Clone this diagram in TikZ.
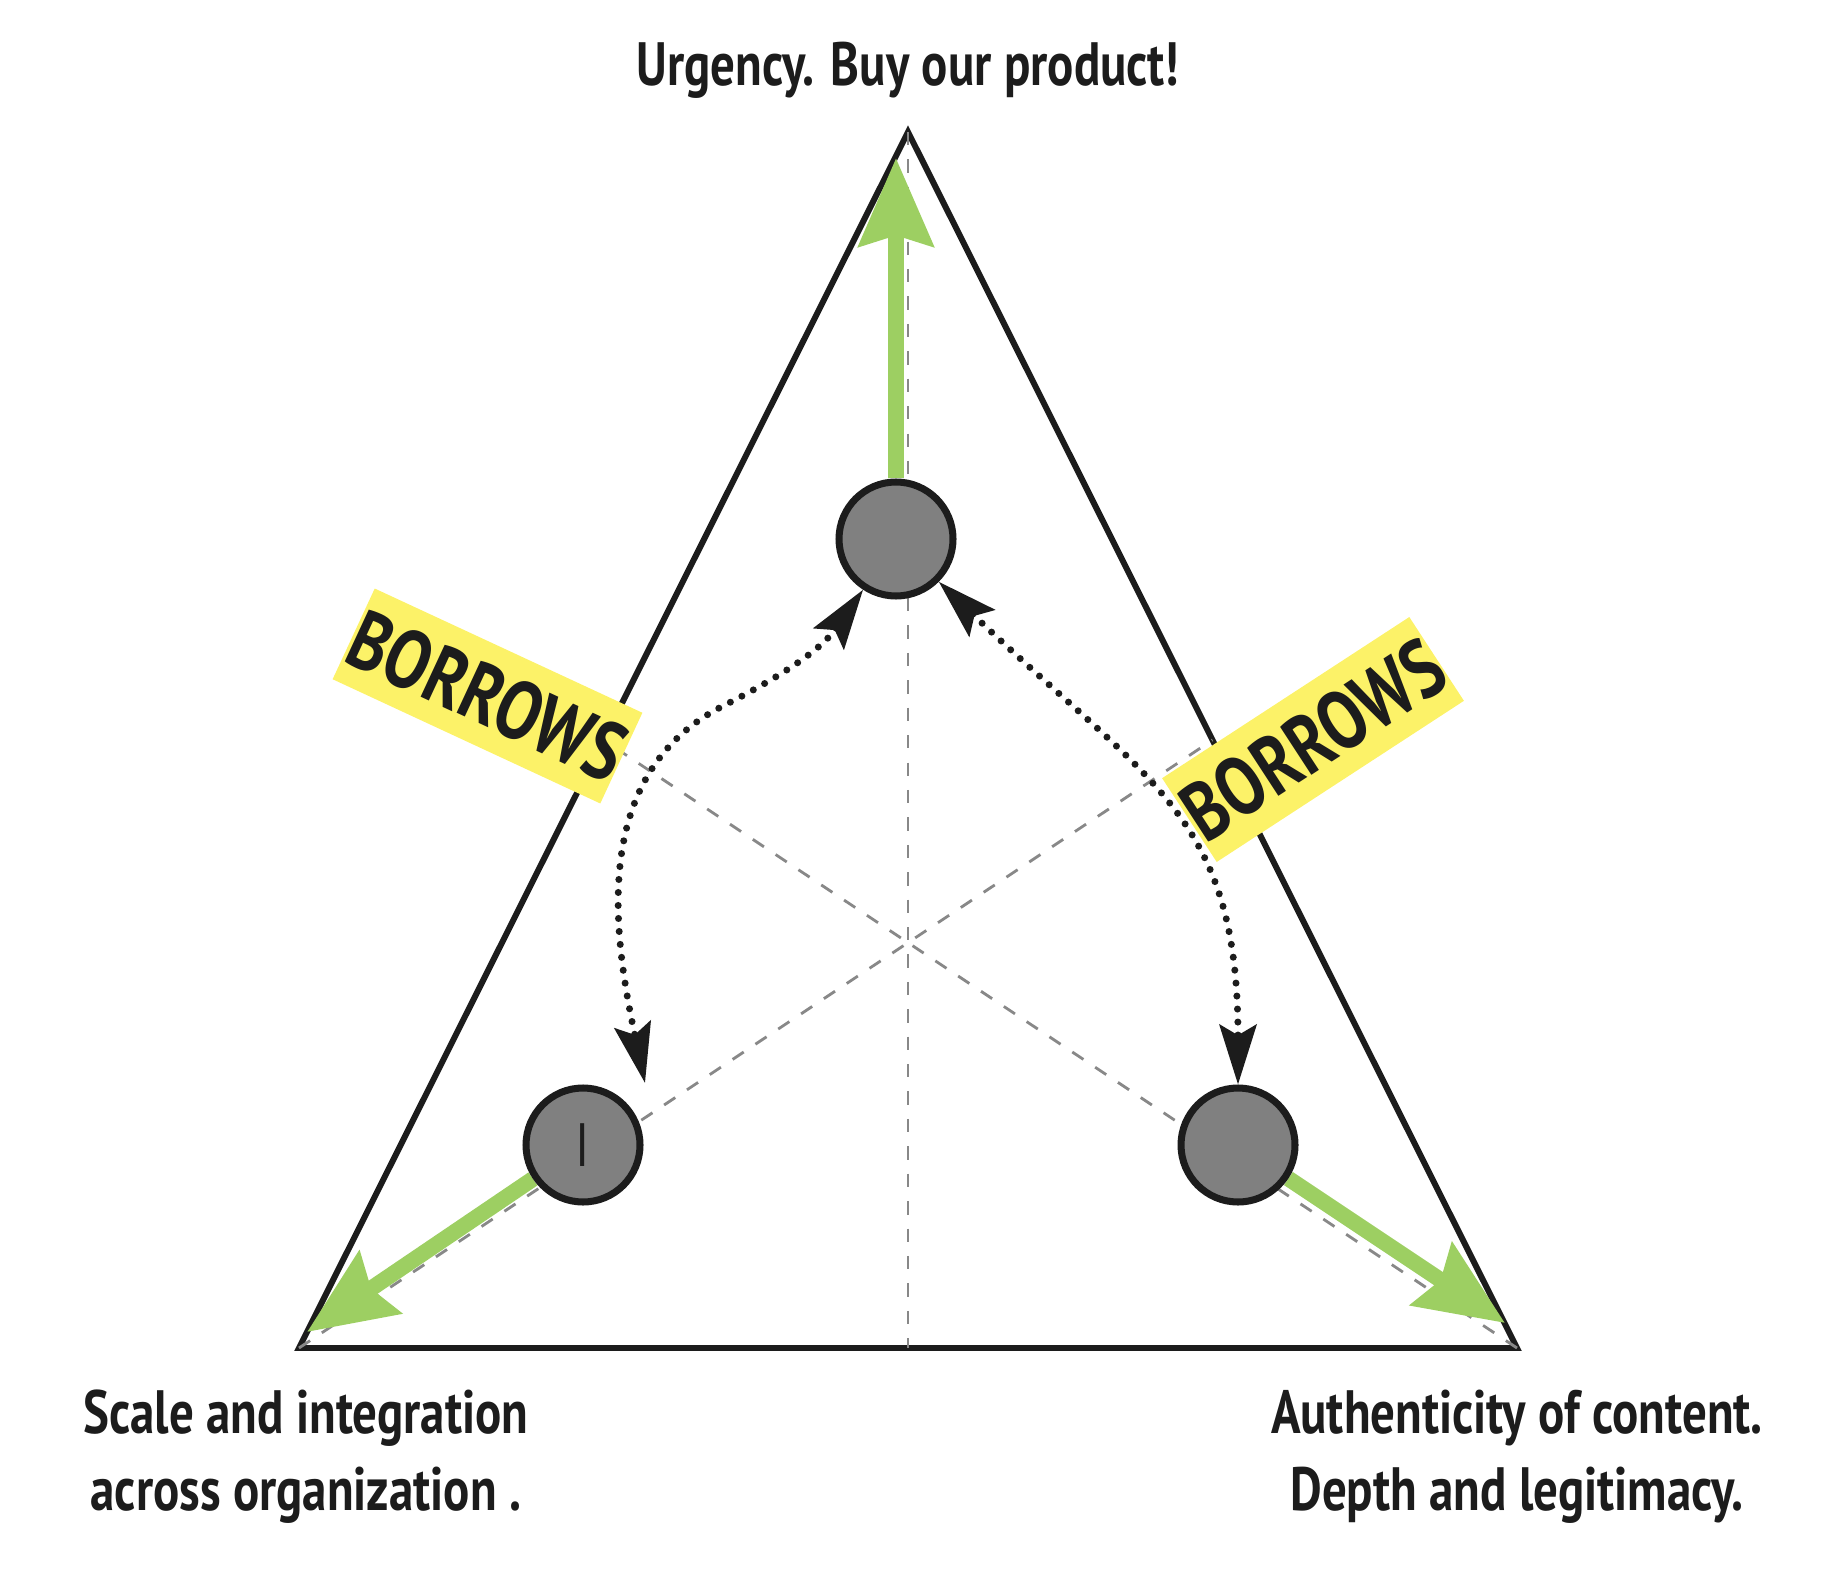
\documentclass[tikz,border=0pt]{standalone}
\usepackage{fontspec}
\setmainfont{PT Sans}[FakeStretch=0.8]
\definecolor{inkblack}{RGB}{28, 28, 28}
\definecolor{dotgray}{RGB}{128, 128, 128}
\definecolor{medgray}{RGB}{136, 136, 136}
\definecolor{pushgreen}{RGB}{157, 207, 98}
\definecolor{tagyellow}{RGB}{252, 242, 104}
\usetikzlibrary{arrows.meta, backgrounds, calc}

\begin{document}
\begin{tikzpicture}[
  corner/.style={text=inkblack, font=\bfseries\fontsize{17.4}{21.8}\selectfont, align=center},
  player/.style={circle, draw=inkblack, line width=2pt, fill=dotgray, minimum size=1.14cm, inner sep=0pt, text=inkblack, font=\fontsize{17.4}{20}\selectfont},
  push/.style={draw=pushgreen, line width=4.5pt, -{Stealth[length=25pt, width=21pt, inset=3pt]}},
  borrow/.style={draw=inkblack, line width=2pt, line cap=round, dash pattern=on 0pt off 3.7pt, {Stealth[length=17pt, width=10.5pt, inset=3pt]}-{Stealth[length=17pt, width=10.5pt, inset=3pt]}},
  median/.style={draw=medgray, line width=0.8pt, dash pattern=on 3.8pt off 4pt},
  tag/.style={fill=tagyellow, minimum width=2.94cm, minimum height=1cm, inner sep=0pt, text=inkblack, font=\bfseries\fontsize{23.5}{26}\selectfont}
]
\useasboundingbox (0,0) rectangle (18.22,15.84);

% corners of the triangle
\coordinate (apex) at (9.08,14.52);
\coordinate (bl) at (2.99,2.36);
\coordinate (br) at (15.17,2.36);

% the three positions
\node[player] (urg) at (8.96,10.45) {};
\node[player] (scl) at (5.83,4.39) {I};
\node[player] (aut) at (12.38,4.39) {};

\coordinate (urgtip) at (8.96,14.26);
\coordinate (scltip) at (3.07,2.52);
\coordinate (auttip) at (15.05,2.61);
\coordinate (lbend) at (7.23,8.78);
\coordinate (sclend) at (6.45,5.01);

\begin{scope}[on background layer]
\draw[draw=inkblack, line width=1.7pt] (apex) -- (bl) -- (br) -- cycle;
\draw[median] (apex) -- ($(bl)!0.5!(br)$);
\draw[median] (bl) -- ($(apex)!0.5!(br)$);
\draw[median] (br) -- ($(apex)!0.5!(bl)$);
\draw[push] (urg) -- (urgtip);
\draw[push] (scl) -- (scltip);
\draw[push] (aut) -- (auttip);
\end{scope}

% borrowing between the positions
\draw[borrow] (urg.237) to[out=235, in=27] (lbend) to[out=207, in=102] (sclend);
\draw[borrow] (urg.-45) .. controls (11.5,8.0) and (12.38,7.7) .. (aut.north);

\node[tag, rotate=-24.9] (tagl) at (4.875,8.88) {BORROWS};
\node[tag, rotate=33.1] (tagr) at (13.13,8.445) {BORROWS};

\node[corner, anchor=base] (ttop) at (9.08,14.98) {Urgency. Buy our product!};
\node[corner, anchor=base] (tleft) at (3.06,0.74) {Scale and integration\\across organization .};
\node[corner, anchor=base] (tright) at (15.17,0.74) {Authenticity of content.\\Depth and legitimacy.};
\end{tikzpicture}
\end{document}
